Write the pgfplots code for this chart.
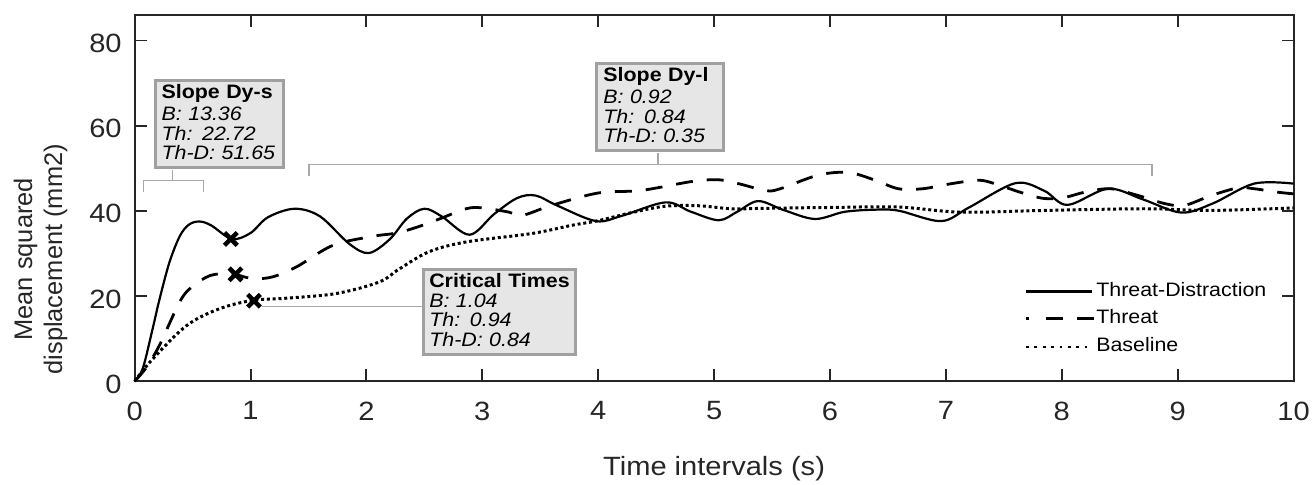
\documentclass[border=0pt]{standalone}
\usepackage{fontspec}
\setmainfont{Liberation Sans}[FakeStretch=1.1]
\newfontfamily\ylabfont{Liberation Sans}
\usepackage{pgfplots}
\pgfplotsset{compat=1.18}
\definecolor{axisgray}{HTML}{262626}
\definecolor{boxfill}{HTML}{E6E6E6}
\definecolor{boxborder}{HTML}{A0A0A0}
\definecolor{anngray}{HTML}{A8A8A8}
\tikzset{annbox/.style={draw=boxborder, line width=3pt, fill=boxfill, inner xsep=6.5pt,
    inner ysep=4pt, align=left, anchor=north west,
    font=\fontsize{19.5}{19.5}\selectfont}}

\begin{document}
\begin{tikzpicture}
\begin{axis}[
  width=1162pt, height=367.3pt, scale only axis,
  xmin=0, xmax=10, ymin=0, ymax=86,
  xtick={0,1,...,10}, ytick={0,20,40,60,80},
  tick align=inside, major tick length=12pt,
  axis line style={axisgray, line width=2pt},
  tick style={axisgray, line width=2pt},
  ticklabel style={font=\fontsize{26.5}{30}\selectfont, text=axisgray},
  /pgf/number format/assume math mode=true,
  xticklabel style={yshift=-17pt},
  yticklabel style={xshift=-9.5pt, yshift=-3pt},
  xlabel={Time intervals (s)},
  xlabel style={at={(axis description cs:0.5,-0.258)}, anchor=base,
    font=\fontsize{26.5}{30}\selectfont, text=axisgray},
  ylabel={Mean squared\\displacement (mm2)},
  ylabel style={at={(axis description cs:-0.0812,0.333)}, anchor=center,
    align=center, font=\ylabfont\fontsize{25.5}{30}\selectfont, text=axisgray},
  legend style={at={(axis cs:7.677,24.5)}, anchor=north west,
    draw=none, fill=none, inner sep=0pt,
    font=\fontsize{19.5}{22}\selectfont,
    nodes={inner ysep=5pt, inner xsep=1pt, text height=14pt, text depth=4pt},
    row sep=0pt, column sep=0pt},
  legend cell align=left,
  clip=false,
]
% Threat-Distraction
\addplot[black, line width=2.2pt, smooth, tension=0.55,
  legend image code/.code={\draw[black, line width=3pt] (0pt,0pt) -- (66pt,0pt);}]
coordinates {
(0,0) (0.07,3) (0.155,12.3) (0.215,19.3) (0.30,27.9) (0.39,34.1) (0.47,36.8)
(0.56,37.5) (0.66,36.6) (0.84,33.4) (1.0,34.8) (1.15,38.5) (1.38,40.5)
(1.6,38.7) (1.85,32.3) (2.02,30.1) (2.2,33.3) (2.35,38.2) (2.5,40.5)
(2.65,38.7) (2.89,34.4) (3.1,39.2) (3.3,43.0) (3.46,43.6) (3.65,41.2)
(3.98,37.6) (4.2,38.8) (4.58,42.0) (4.8,39.8) (5.04,37.8) (5.2,39.8)
(5.38,42.3) (5.6,40.2) (5.87,38.1) (6.13,39.8) (6.42,40.3) (6.6,40.0)
(6.96,37.6) (7.2,40.8) (7.6,46.5) (7.85,44.7) (8.05,41.4) (8.4,45.2)
(8.7,42.7) (9.03,39.6) (9.3,41.7) (9.66,46.4) (10,46.4)
};
\addlegendentry{Threat-Distraction}
% Threat
\addplot[black, line width=2.8pt, dash pattern=on 17pt off 14pt, smooth, tension=0.55,
  legend image code/.code={\draw[black, line width=3pt,
    dash pattern=on 3pt off 17pt on 17pt off 14pt on 17pt off 50pt] (0pt,0pt) -- (68pt,0pt);}]
coordinates {
(0,0) (0.1,3.2) (0.215,8.5) (0.39,18.7) (0.5,22.3) (0.65,24.8) (0.8,25.3)
(0.88,25.0) (1.02,24.1) (1.19,24.5) (1.4,26.9) (1.71,31.9) (2.05,34.0)
(2.26,34.8) (2.45,36.3) (2.63,38.1) (2.86,40.5) (3.0,40.7) (3.23,39.7)
(3.34,38.9) (3.6,41.3) (4.0,44.2) (4.37,44.8) (4.81,46.9) (5.04,47.3)
(5.21,46.4) (5.44,44.8) (5.56,45.1) (5.9,48.4) (6.16,49.0) (6.39,47.2)
(6.59,45.2) (6.8,45.2) (7.05,46.4) (7.28,47.2) (7.42,46.4) (7.65,44.3)
(7.85,42.9) (8.03,43.2) (8.2,44.4) (8.42,45.2) (8.66,43.6) (8.89,41.7)
(9.06,41.3) (9.29,43.6) (9.52,45.4) (9.66,45.2) (9.86,44.4) (10,44.0)
};
\addlegendentry{Threat}
% Baseline
\addplot[black, line width=3pt, dash pattern=on 3pt off 2.8pt, smooth, tension=0.55,
  legend image code/.code={\draw[black, line width=2.8pt,
    dash pattern=on 2.8pt off 5.6pt] (0pt,0pt) -- (66pt,0pt);}]
coordinates {
(0,0) (0.155,5.2) (0.45,13.1) (0.73,17.0) (1.02,19.0) (1.31,19.5) (1.74,20.6)
(2.11,23.3) (2.28,26.3) (2.54,30.4) (2.86,32.7) (3.43,34.7) (3.77,36.6)
(4.0,37.7) (4.29,39.6) (4.58,41.1) (4.87,41.2) (5.15,40.5) (5.44,40.6)
(6.01,40.8) (6.59,40.9) (7.13,39.7) (7.85,40.1) (8.72,40.5) (9.29,40.1)
(10,40.7)
};
\addlegendentry{Baseline}
% critical-time markers
\addplot[black, only marks, mark=x, mark size=9pt, line width=4.5pt, forget plot]
coordinates {(0.83,33.4) (0.87,25.1) (1.03,18.9)};

% brackets and connector lines
\draw[anngray, line width=1.5pt] (axis cs:0.327,49.7) -- (axis cs:0.327,47.1);
\draw[anngray, line width=1.5pt] (axis cs:0.077,44.5) -- (axis cs:0.077,47.1)
  -- (axis cs:0.594,47.1) -- (axis cs:0.594,44.5);
\draw[anngray, line width=1.5pt] (axis cs:4.518,53.7) -- (axis cs:4.518,50.9);
\draw[anngray, line width=1.5pt] (axis cs:1.506,48.1) -- (axis cs:1.506,50.9)
  -- (axis cs:8.779,50.9) -- (axis cs:8.779,48.1);
\draw[anngray, line width=1.5pt] (axis cs:1.10,17.5) -- (axis cs:2.478,17.5);

% annotation boxes
\node[annbox, text width=116pt] at (axis cs:0.1635,71.0)
  {\textbf{Slope Dy-s}\\[3pt]\textit{B: 13.36}\\\textit{Th: 22.72}\\\textit{Th-D: 51.65}\rule[-4pt]{0pt}{4pt}};
\node[annbox, text width=114pt] at (axis cs:3.976,75.0)
  {\textbf{Slope Dy-l}\\[3pt]\textit{B: 0.92}\\\textit{Th: 0.84}\\\textit{Th-D: 0.35}\rule[-4pt]{0pt}{4pt}};
\node[annbox, text width=141pt, inner xsep=6pt] at (axis cs:2.478,26.7)
  {\textbf{Critical Times}\\[1pt]\textit{B: 1.04}\\\textit{Th: 0.94}\\\textit{Th-D: 0.84}\rule[-4pt]{0pt}{4pt}};

% page extent
\path (rel axis cs:-0.1162,-0.2668) rectangle (rel axis cs:1.0138,1.0408);
\end{axis}
\end{tikzpicture}
\end{document}
